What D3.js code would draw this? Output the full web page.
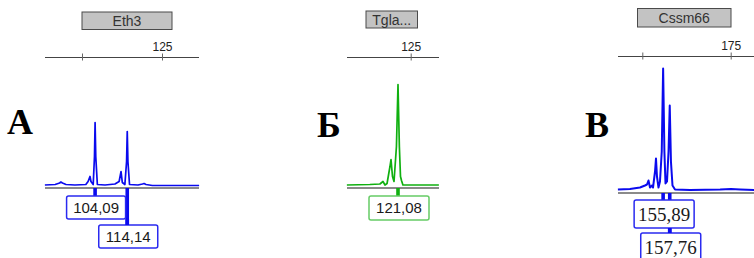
<!DOCTYPE html>
<html><head><meta charset="utf-8">
<script src="https://cdn.jsdelivr.net/npm/d3@7"></script>
<style>html,body{margin:0;padding:0;background:#fff;}svg{display:block;}</style>
</head><body>
<svg id="c" width="754" height="258"></svg>
<script>
// ---------- data ----------
const panelLetters = ["А", "Б", "В"];
const markerNames = ["Eth3", "Tgla...", "Cssm66"];

const ticksA = [100, 125];
const tickLabelsA = ["", "125"];
const ticksB = [125];
const tickLabelsB = ["125"];
const ticksC = [150, 175];
const tickLabelsC = ["", "175"];

const traceSizeA = [88.4, 91.6, 93.0, 93.4, 93.9, 95.0, 97.8, 101.2, 101.9, 102.5, 102.8, 103.5, 103.9, 104.09, 104.3, 104.8, 107.2, 110.3, 111.6, 112.2, 112.6, 113.4, 113.93, 114.14, 114.35, 114.85, 117.5, 118.9, 119.4, 120.0, 122.0, 136.6];
const traceRfuA  = [1.5, 2, 3.5, 4.5, 3.5, 2, 1.5, 2, 5, 10, 5, 2, 30, 64, 30, 2, 1.5, 2.5, 5, 15, 4, 2, 25, 55, 25, 2, 1.5, 2.5, 3, 2, 1, 1];
const peaksA = [104.09, 114.14];
const peakLabelsA = ["104,09", "114,14"];

const traceSizeB = [105.3, 112.4, 115.5, 116.45, 117.07, 117.7, 118.6, 118.92, 119.38, 119.85, 120.6, 121.08, 121.5, 121.85, 122.16, 122.6, 133.7];
const traceRfuB  = [1.5, 2, 2.5, 5, 1.5, 3, 20, 27, 10, 5, 40, 102, 40, 10, 6, 1.5, 1.5];
const peaksB = [121.08];
const peakLabelsB = ["121,08"];

const traceSizeC = [143.1, 146.5, 149.35, 150.76, 151.33, 151.75, 152.18, 152.74, 153.03, 153.6, 153.87, 154.15, 154.58, 155.0, 155.5, 155.89, 156.25, 156.56, 156.99, 157.42, 157.76, 158.1, 158.54, 159.25, 163.5, 172.0, 175.1, 177.7, 181.6];
const traceRfuC  = [2, 2.5, 4, 6, 7, 11, 4, 6, 4, 20, 33, 15, 4, 10, 40, 123, 40, 8, 10, 40, 86, 30, 6, 2, 1.5, 2, 2.5, 2, 1.5];
const peaksC = [155.89, 157.76];
const peakLabelsC = ["155,89", "157,76"];

// ---------- layout ----------
const svg = d3.select("#c");
const panels = [
  { letter: panelLetters[0], name: markerNames[0], ticks: ticksA, tickLabels: tickLabelsA,
    sizes: traceSizeA, rfu: traceRfuA, peaks: peaksA, peakLabels: peakLabelsA,
    dom: [100, 125], rng: [82, 162], left: 45, right: 199, axisY: 57.5, base: 188,
    head: [82, 172, 12, 29.5], color: "#0a0aee", boxStroke: "#2a2af0", lw: 1.7,
    boxW: 59, boxH: 23, boxOff: [8, 37], font: "'Liberation Sans', Arial, sans-serif", fs: 15, letterX: 7 },
  { letter: panelLetters[1], name: markerNames[1], ticks: ticksB, tickLabels: tickLabelsB,
    sizes: traceSizeB, rfu: traceRfuB, peaks: peaksB, peakLabels: peakLabelsB,
    dom: [121.08, 125], rng: [398, 410.7], left: 347, right: 439, axisY: 57.5, base: 188,
    head: [366, 417.5, 11, 28], color: "#10b010", boxStroke: "#66cc66", lw: 1.7,
    boxW: 60, boxH: 24, boxOff: [8, 37], font: "'Liberation Sans', Arial, sans-serif", fs: 15, letterX: 317 },
  { letter: panelLetters[2], name: markerNames[2], ticks: ticksC, tickLabels: tickLabelsC,
    sizes: traceSizeC, rfu: traceRfuC, peaks: peaksC, peakLabels: peakLabelsC,
    dom: [150, 175], rng: [642.3, 730.7], left: 618, right: 754, axisY: 56.5, base: 193,
    head: [637.5, 731, 8.5, 27], color: "#0a0aee", boxStroke: "#2a2af0", lw: 2.0,
    boxW: 60, boxH: 28, boxOff: [7, 40], font: "'Liberation Serif', 'Times New Roman', serif", fs: 19, letterX: 585 }
];

panels.forEach(p => {
  const g = svg.append("g");
  const x = d3.scaleLinear().domain(p.dom).range(p.rng);
  const y = d3.scaleLinear().domain([0, 100]).range([p.base - 1.5, p.base - 101.5]);

  // header
  g.append("rect").attr("x", p.head[0]).attr("y", p.head[2])
    .attr("width", p.head[1] - p.head[0]).attr("height", p.head[3] - p.head[2])
    .attr("fill", "#c3c3c3").attr("stroke", "#4a4a4a").attr("stroke-width", 1);
  g.append("text").attr("x", (p.head[0] + p.head[1]) / 2).attr("y", (p.head[2] + p.head[3]) / 2 + 5)
    .attr("text-anchor", "middle").attr("font-family", "'Liberation Sans', Arial, sans-serif")
    .attr("font-size", 14).attr("fill", "#333").text(p.name);

  // axis
  g.append("line").attr("x1", p.left).attr("x2", p.right).attr("y1", p.axisY).attr("y2", p.axisY)
    .attr("stroke", "#444").attr("stroke-width", 1.2);
  const ax = d3.axisTop(x).tickValues(p.ticks).tickSize(4)
    .tickFormat((d, i) => p.tickLabels[i]);
  const axG = g.append("g").attr("transform", `translate(0,${p.axisY})`).call(ax);
  axG.select(".domain").remove();
  axG.selectAll(".tick line").attr("y1", 3).attr("y2", -4).attr("stroke", "#666");
  axG.selectAll(".tick text").attr("font-family", "'Liberation Sans', Arial, sans-serif")
    .attr("font-size", 12).attr("fill", "#222").attr("y", -7);

  // panel letter
  g.append("text").attr("x", p.letterX).attr("y", p.letter === "А" ? 134 : 137)
    .attr("font-family", "'Liberation Serif', 'Times New Roman', serif")
    .attr("font-weight", "bold").attr("font-size", 36).attr("fill", "#000").text(p.letter);

  // gray baseline
  g.append("line").attr("x1", p.left).attr("x2", p.right).attr("y1", p.base).attr("y2", p.base)
    .attr("stroke", "#8a8a8a").attr("stroke-width", 2);

  // trace
  const pts = p.sizes.map((s, i) => [s, p.rfu[i]]);
  const line = d3.line().x(d => x(d[0])).y(d => y(d[1]));
  g.append("path").attr("d", line(pts)).attr("fill", "none")
    .attr("stroke", p.color).attr("stroke-width", p.lw).attr("stroke-linejoin", "round");

  // markers and boxes
  const levels = p.peaks.map((d, i) => i);
  p.peaks.forEach((pk, i) => {
    const top = p.base + p.boxOff[levels[i]];
    g.append("rect").attr("x", x(pk) - 1.8).attr("y", p.base)
      .attr("width", 3.6).attr("height", top - p.base).attr("fill", p.color);
  });
  p.peaks.forEach((pk, i) => {
    const top = p.base + p.boxOff[levels[i]];
    const cx = x(pk) + 1;
    g.append("rect").attr("x", cx - p.boxW / 2).attr("y", top)
      .attr("width", p.boxW).attr("height", p.boxH).attr("rx", 2)
      .attr("fill", "#fff").attr("stroke", p.boxStroke).attr("stroke-width", 1.5);
    g.append("text").attr("x", cx).attr("y", top + p.boxH / 2 + p.fs * 0.36)
      .attr("text-anchor", "middle").attr("font-family", p.font).attr("font-size", p.fs)
      .attr("fill", "#1a1a1a").text(p.peakLabels[i]);
  });
  // connector bars re-drawn between stacked boxes for lower-level markers
  p.peaks.forEach((pk, i) => {
    if (levels[i] > 0) {
      const top = p.base + p.boxOff[levels[i]];
      const prevBottom = p.base + p.boxOff[levels[i] - 1] + p.boxH;
      g.append("rect").attr("x", x(pk) - 1.8).attr("y", prevBottom)
        .attr("width", 3.6).attr("height", top - prevBottom).attr("fill", p.color);
    }
  });
});
</script>
</body></html>
